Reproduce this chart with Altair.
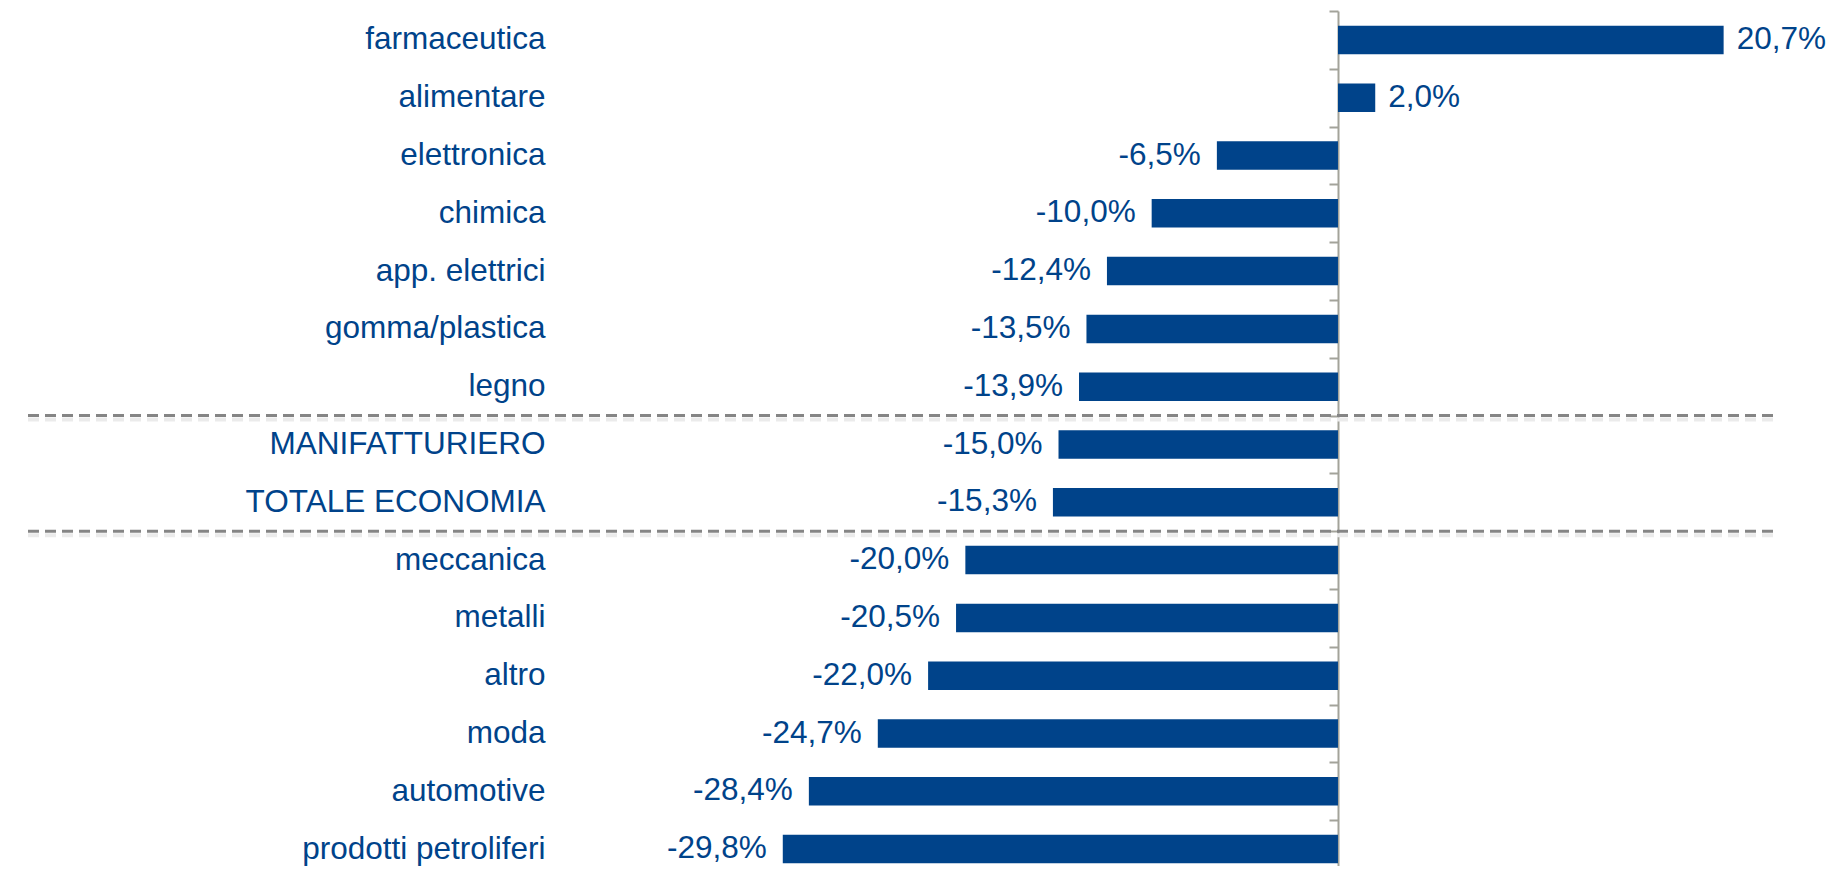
import altair as alt
import pandas as pd

categories = [
    "farmaceutica", "alimentare", "elettronica", "chimica", "app. elettrici",
    "gomma/plastica", "legno", "MANIFATTURIERO", "TOTALE ECONOMIA",
    "meccanica", "metalli", "altro", "moda", "automotive", "prodotti petroliferi",
]
values = [20.7, 2.0, -6.5, -10.0, -12.4, -13.5, -13.9, -15.0, -15.3,
          -20.0, -20.5, -22.0, -24.7, -28.4, -29.8]
separators = ["legno", "TOTALE ECONOMIA"]

df = pd.DataFrame({"cat": categories, "val": values})
df["lab"] = [f"{v:.1f}".replace(".", ",") + "%" for v in values]
sep_df = pd.DataFrame({"cat": separators})

BLUE = "#00438a"
AXIS_GREY = "#a3a39a"
FONT = "Liberation Sans"
FS = 31.5

yscale = alt.Scale(domain=categories, paddingInner=0, paddingOuter=0, range=[1, 868])
xscale = alt.Scale(domain=[-70.42, 23.35], nice=False, zero=False)

yaxis = alt.Axis(
    title=None, orient="left", offset=-1312, domain=True, domainColor=AXIS_GREY,
    domainWidth=2, ticks=True, tickColor=AXIS_GREY, tickWidth=2, tickSize=9,
    tickBand="extent", labelPadding=784, labelAlign="right", labelFont=FONT,
    labelFontSize=FS, labelColor=BLUE, labelLimit=600, grid=False,
)

base = alt.Chart(df)

bars = base.mark_bar(size=28.5, color=BLUE).encode(
    x=alt.X("val:Q", scale=xscale, axis=None),
    y=alt.Y("cat:N", sort=categories, scale=yscale, axis=yaxis),
)

pos_text = base.transform_filter("datum.val >= 0").mark_text(
    align="left", baseline="middle", dx=13, font=FONT, fontSize=FS, color=BLUE
).encode(
    x=alt.X("val:Q", scale=xscale, axis=None),
    y=alt.Y("cat:N", sort=categories, scale=yscale, axis=yaxis),
    text="lab:N",
)

neg_text = base.transform_filter("datum.val < 0").mark_text(
    align="right", baseline="middle", dx=-16, font=FONT, fontSize=FS, color=BLUE
).encode(
    x=alt.X("val:Q", scale=xscale, axis=None),
    y=alt.Y("cat:N", sort=categories, scale=yscale, axis=yaxis),
    text="lab:N",
)

sep_shadow = alt.Chart(sep_df).mark_rule(
    color="#ebebeb", strokeWidth=4, strokeDash=[11, 6], yOffset=4
).encode(
    y=alt.Y("cat:N", sort=categories, scale=yscale, bandPosition=1, axis=yaxis),
)

sep = alt.Chart(sep_df).mark_rule(
    color="#858585", strokeWidth=3, strokeDash=[11, 6]
).encode(
    y=alt.Y("cat:N", sort=categories, scale=yscale, bandPosition=1, axis=yaxis),
)

chart = alt.layer(sep_shadow, bars, sep, pos_text, neg_text).properties(
    width=1747, height=856,
    padding={"left": 18, "top": 2, "right": 54, "bottom": 0},
    autosize=alt.AutoSizeParams(type="none"),
    background="white",
).configure_view(stroke=None)

chart.save("out.html", embed_options={"renderer": "svg", "actions": False})
